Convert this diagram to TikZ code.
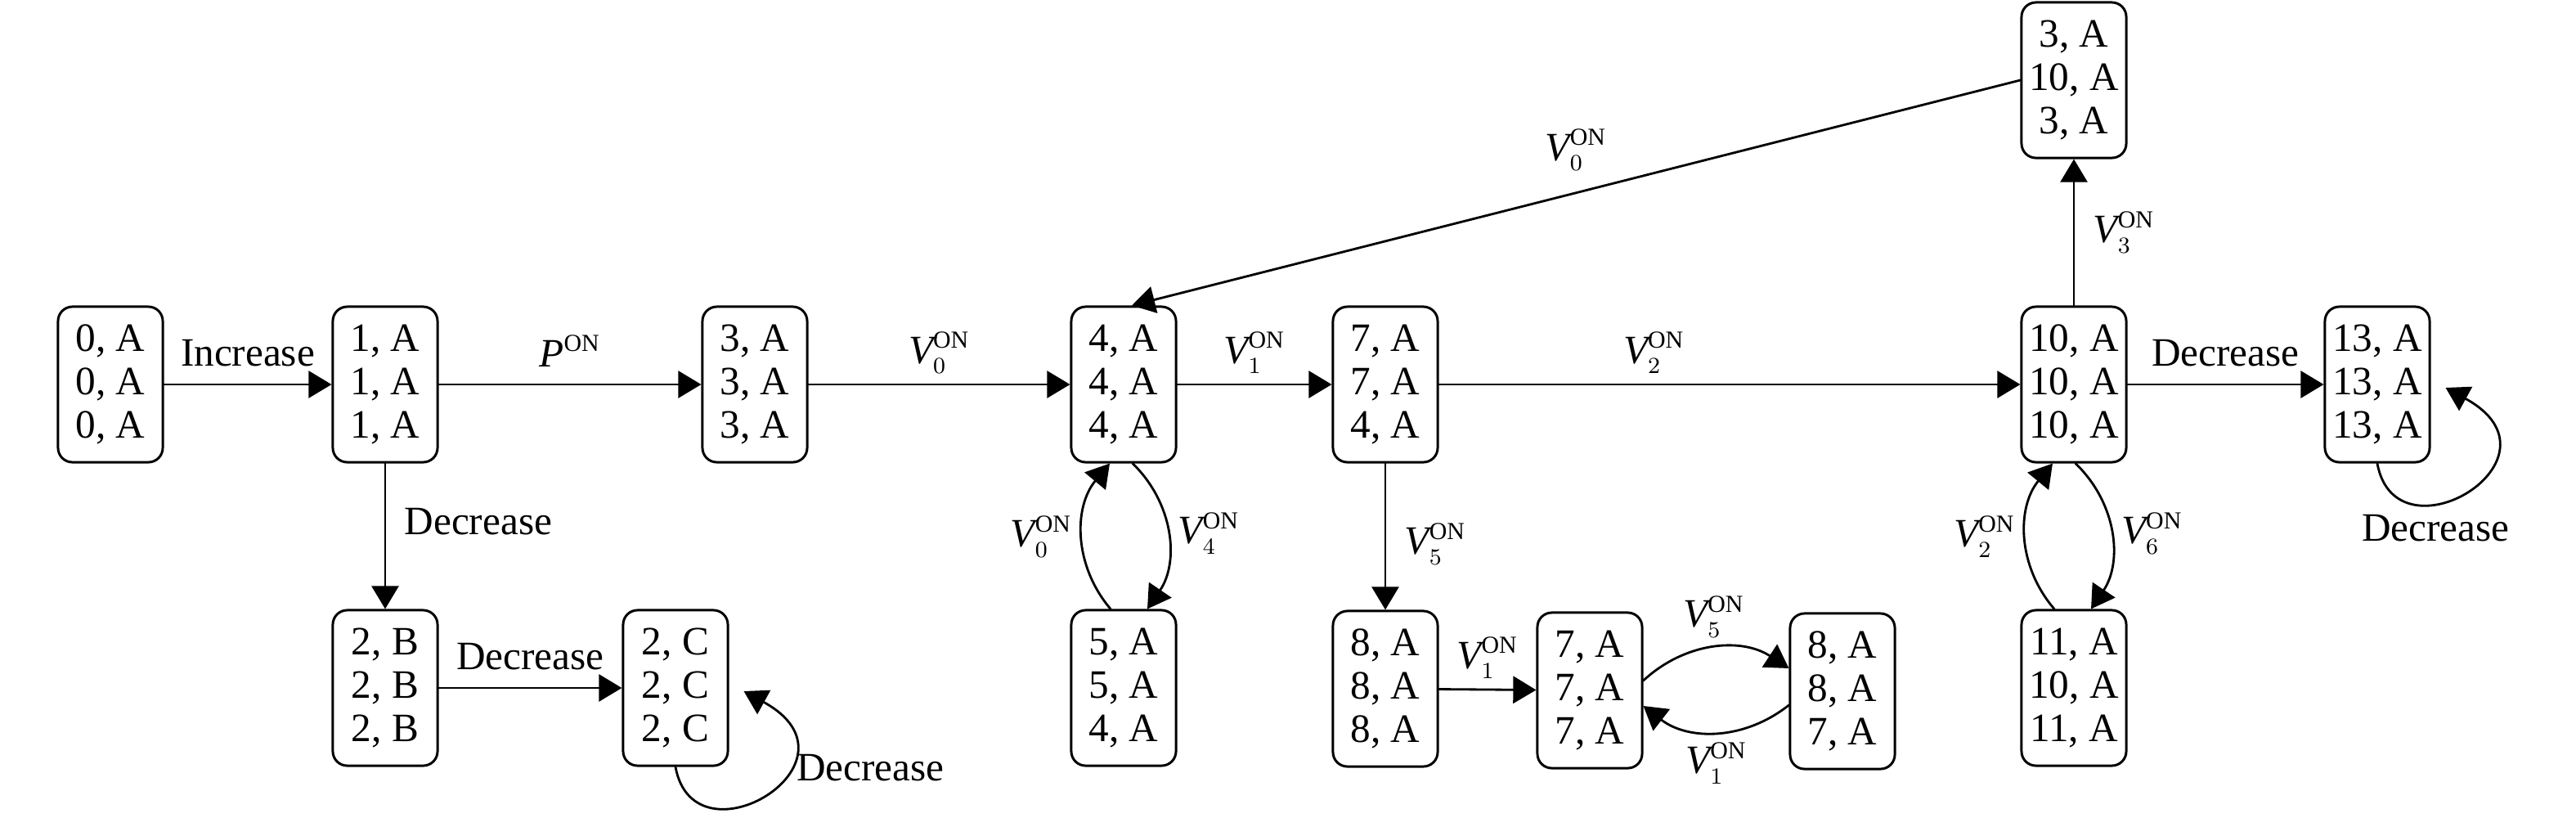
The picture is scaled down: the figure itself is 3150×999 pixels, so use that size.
\documentclass[tikz,border=0pt]{standalone}
\usepackage{fontspec}
\setmainfont{Liberation Serif}
\DeclareMathSizes{14}{14}{8.5}{6}
\usetikzlibrary{arrows.meta}
\tikzset{
  statebox/.style={draw,rounded corners=5pt,line width=0.85pt,minimum width=1.28cm,minimum height=1.9cm,inner sep=2pt,align=center},
  trans/.style={->,line width=0.8pt},
}

\begin{document}
\begin{tikzpicture}[line cap=round,line join=round,>={Triangle[length=8pt,width=9.4pt]},x=0.01cm,y=-0.01cm,every node/.style={font=\fontsize{14}{15}\selectfont}]
\useasboundingbox (0,0) rectangle (3150,999);
% upper row
\node[statebox] (n0a) at (135,470) {0, A\\0, A\\0, A};
\node[statebox] (n1a) at (471,470) {1, A\\1, A\\1, A};
\node[statebox] (n3a) at (923,470) {3, A\\3, A\\3, A};
\node[statebox] (n4a) at (1374,470) {4, A\\4, A\\4, A};
\node[statebox] (n7a) at (1694,470) {7, A\\7, A\\4, A};
\node[statebox] (n10a) at (2536,470) {10, A\\10, A\\10, A};
\node[statebox] (n13a) at (2907,470) {13, A\\13, A\\13, A};
\node[statebox] (n3b) at (2536,98) {3, A\\10, A\\3, A};
% lower row
\node[statebox] (n2b) at (471,841) {2, B\\2, B\\2, B};
\node[statebox] (n2c) at (826,841) {2, C\\2, C\\2, C};
\node[statebox] (n5a) at (1374,841) {5, A\\5, A\\4, A};
\node[statebox] (n8a) at (1694,842) {8, A\\8, A\\8, A};
\node[statebox] (n7b) at (1944,844) {7, A\\7, A\\7, A};
\node[statebox] (n8b) at (2253,845) {8, A\\8, A\\7, A};
\node[statebox] (n11a) at (2536,841) {11, A\\10, A\\11, A};
% transitions
\draw[trans] (n0a) -- node[above=2.5pt]{Increase} (n1a);
\draw[trans] (n1a) -- node[above=2.5pt]{$\mathit{P}^{\mathrm{ON}}$} (n3a);
\draw[trans] (n3a) -- node[above]{$\mathit{V}_0^{\mathrm{ON}}$} (n4a);
\draw[trans] (n4a) -- node[above]{$\mathit{V}_1^{\mathrm{ON}}$} (n7a);
\draw[trans] (n7a) -- node[pos=0.37,above]{$\mathit{V}_2^{\mathrm{ON}}$} (n10a);
\draw[trans] (n10a) -- node[above=2.5pt]{Decrease} (n13a);
\draw[trans] (n10a) -- node[right=3pt]{$\mathit{V}_3^{\mathrm{ON}}$} (n3b);
\draw[trans] (n3b.west) -- node[above=4pt]{$\mathit{V}_0^{\mathrm{ON}}$} ([xshift=0.1cm]n4a.north);
\draw[trans] (n1a) -- node[pos=0.4,right=3pt]{Decrease} (n2b);
\draw[trans] (n2b) -- node[above=2.5pt]{Decrease} (n2c);
\draw[trans] (n2c.south) .. controls +(23,125) and +(157,86) .. ([shift={(18,4)}]n2c.east) node[pos=0.65,right]{Decrease};
\draw[trans] ([xshift=0.11cm]n4a.south) to[bend left=40] node[right]{$\mathit{V}_4^{\mathrm{ON}}$} ([xshift=0.29cm]n5a.north);
\draw[trans] ([xshift=-0.16cm]n5a.north) to[bend left=40] node[left]{$\mathit{V}_0^{\mathrm{ON}}$} ([xshift=-0.17cm]n4a.south);
\draw[trans] (n7a) -- node[pos=0.55,right=3pt]{$\mathit{V}_5^{\mathrm{ON}}$} (n8a);
\draw[trans] (n8a) -- node[above]{$\mathit{V}_1^{\mathrm{ON}}$} (n7b);
\draw[trans] ([yshift=0.12cm]n7b.east) to[bend left=38] node[above]{$\mathit{V}_5^{\mathrm{ON}}$} ([yshift=0.28cm]n8b.west);
\draw[trans] ([yshift=-0.17cm]n8b.west) to[bend left=38] node[below]{$\mathit{V}_1^{\mathrm{ON}}$} ([yshift=-0.19cm]n7b.east);
\draw[trans] ([xshift=0.02cm]n10a.south) to[bend left=40] node[right]{$\mathit{V}_6^{\mathrm{ON}}$} ([xshift=0.21cm]n11a.north);
\draw[trans] ([xshift=-0.24cm]n11a.north) to[bend left=40] node[left]{$\mathit{V}_2^{\mathrm{ON}}$} ([xshift=-0.26cm]n10a.south);
\draw[trans] (n13a.south) .. controls +(23,125) and +(157,86) .. ([shift={(18,4)}]n13a.east) node[pos=0.35,below]{Decrease};
\end{tikzpicture}
\end{document}
